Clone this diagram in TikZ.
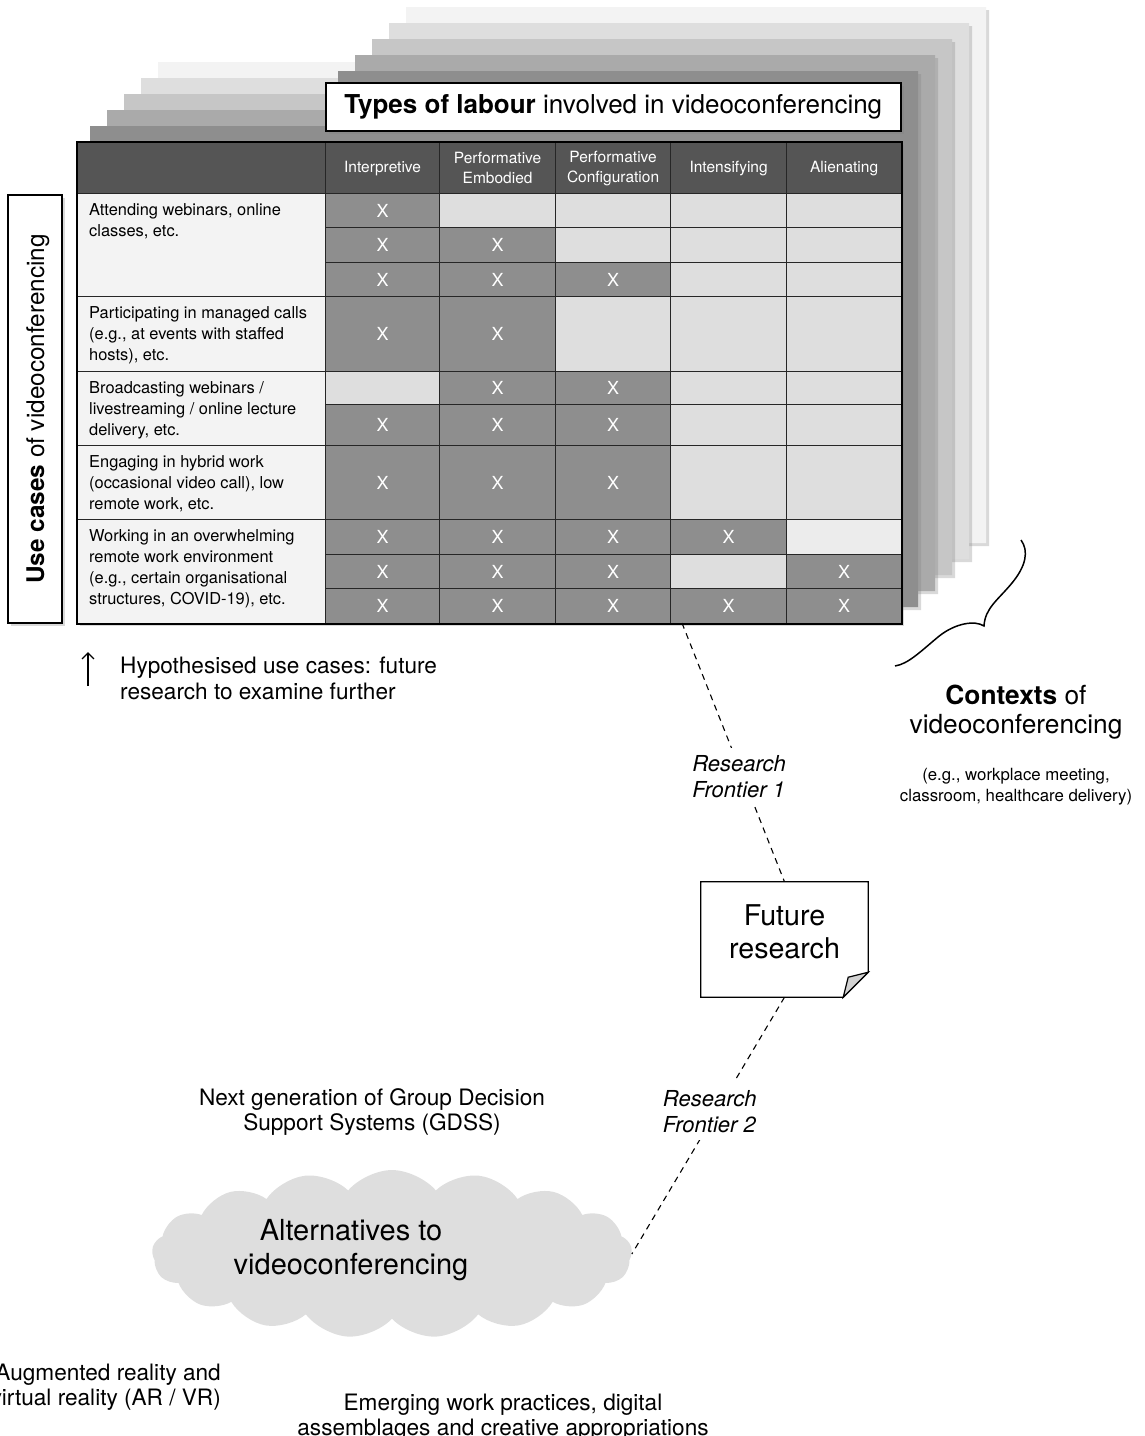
\documentclass[tikz,border=0pt]{standalone}
\usepackage{fontspec}
\setmainfont{TeX Gyre Heros}
\usetikzlibrary{shapes.symbols,shadows,arrows.meta,positioning}

\definecolor{hdr}{HTML}{555555}
\definecolor{xcell}{HTML}{8E8E8E}
\definecolor{blank}{HTML}{DEDEDE}
\definecolor{paler}{HTML}{ECECEC}
\definecolor{rowlab}{HTML}{F3F3F3}
\definecolor{cloudgray}{HTML}{DEDEDE}
\newcommand{\fsz}[2]{\fontsize{#1}{#2}\selectfont}

\tikzset{
  dropsh/.style={drop shadow={shadow xshift=3pt,shadow yshift=-3pt,opacity=.3}},
  tcell/.style={draw=black!85,line width=1.2pt,inner sep=0pt,anchor=north west,text=white,font=\fsz{18}{20}},
  cell0/.style={tcell,fill=blank},
  cell1/.style={tcell,fill=xcell},
  cell2/.style={tcell,fill=paler},
  hcell/.style={tcell,fill=hdr,align=center,font=\fsz{15.5}{20}},
  labcell/.style={draw=black!85,line width=1.2pt,fill=rowlab,anchor=north west,minimum width=248pt,inner sep=0pt},
  labtext/.style={anchor=north west,align=left,inner sep=0pt,font=\fsz{16.4}{21}},
  frontier/.style={dash pattern=on 6pt off 5pt,line width=1.1pt},
  flabel/.style={fill=white,align=left,inner sep=8pt,font=\fsz{22}{26}\itshape},
  remark/.style={align=center,inner sep=0pt,font=\fsz{22.6}{25}}
}

\begin{document}
\begin{tikzpicture}[x=1pt,y=-1pt]
\useasboundingbox (0,0) rectangle (1145,1436);

% pages behind the table (contexts)
\foreach \i/\pg in {5/F3F3F3,4/DEDEDE,3/C6C6C6,2/AAAAAA,1/8E8E8E}{
  \definecolor{pagecol}{HTML}{\pg}
  \fill[pagecol,dropsh] ({73+17*\i},{142-16*\i}) -- ({321+17*\i},{142-16*\i}) -- ({321+17*\i},{87-16*\i})
    -- ({901+17*\i},{87-16*\i}) -- ({901+17*\i},{623-16*\i}) -- ({73+17*\i},{623-16*\i}) -- cycle;
}

% title
\node[draw,line width=1.5pt,fill=white,dropsh,minimum width=575pt,minimum height=48pt,inner sep=0pt,
  anchor=north west,font=\fsz{26}{30}] (title) at (325,82) {\textbf{Types of labour} involved in videoconferencing};

% table
\fill[white,dropsh] (77,142) rectangle (901,623);
\node[hcell,minimum width=248pt,minimum height=51pt] (h0) at (77,142) {};
\foreach \k/\xl/\xr/\txt in {1/325/439/Interpretive,2/439/555/{Performative\\Embodied},
    3/555/670/{Performative\\Configuration},4/670/786/Intensifying,5/786/901/Alienating}
  \node[hcell,minimum width={\xr-\xl},minimum height=51pt] (h\k) at (\xl,142) {\txt};

\foreach \r/\ya/\yb/\a/\b/\c/\d/\e in {1/193/227/1/0/0/0/0,2/227/262/1/1/0/0/0,3/262/296/1/1/1/0/0,
    4/296/371/1/1/0/0/0,5/371/404/0/1/1/0/0,6/404/445/1/1/1/0/0,7/445/519/1/1/1/0/0,
    8/519/554/1/1/1/1/2,9/554/588/1/1/1/0/1,10/588/623/1/1/1/1/1}
  \foreach \v/\k/\xl/\xr in {\a/1/325/439,\b/2/439/555,\c/3/555/670,\d/4/670/786,\e/5/786/901}
    \node[cell\v,minimum width={\xr-\xl},minimum height={\yb-\ya}] (c\r-\k) at (\xl,\ya) {\ifnum\v=1 X\fi};

% use cases
\node[labcell,minimum height=103pt] (u1) at (77,193) {};
\node[labtext] (u1t) at (89,203) {Attending webinars, online\\classes, etc.};
\node[labcell,minimum height=75pt] (u2) at (77,296) {};
\node[labtext] (u2t) at (89,306) {Participating in managed calls\\(e.g., at events with staffed\\hosts), etc.};
\node[labcell,minimum height=74pt] (u3) at (77,371) {};
\node[labtext] (u3t) at (89,381) {Broadcasting webinars /\\livestreaming / online lecture\\delivery, etc.};
\node[labcell,minimum height=74pt] (u4) at (77,445) {};
\node[labtext] (u4t) at (89,455) {Engaging in hybrid work\\(occasional video call), low\\remote work, etc.};
\node[labcell,minimum height=104pt] (u5) at (77,519) {};
\node[labtext] (u5t) at (89,529) {Working in an overwhelming\\remote work environment\\(e.g., certain organisational\\structures, COVID-19), etc.};
\draw[line width=2pt] (h0.north west) rectangle (c10-5.south east);

\node[draw,line width=1.5pt,fill=white,dropsh,minimum width=54pt,minimum height=428pt,inner sep=0pt] (usebox) at (35,409) {};
\node[rotate=90,font=\fsz{24.3}{28}] (usetxt) at (38,409) {\textbf{Use cases} of videoconferencing};

% hypothesised
\draw[line width=1.3pt,-{Straight Barb[length=6pt,width=12pt]}] (88,686) -- (88,652);
\node[anchor=north west,align=left,inner sep=0pt,font=\fsz{22.6}{26}] (hypo) at (120,657)
  {Hypothesised use cases: future\\research to examine further};

% contexts brace
\draw[line width=1.5pt] (1021,540) .. controls (1029,551) and (1026,566) .. (1012,583)
  .. controls (998,600) and (985,608) .. (984,626)
  .. controls (975,620) and (955,623) .. (938,637)
  .. controls (920,652) and (908,664) .. (895,666);
\node[anchor=north,align=center,inner sep=0pt,font=\fsz{26.3}{29}] (ctx) at (1016,685) {\textbf{Contexts} of\\videoconferencing};
\node[anchor=north,align=center,inner sep=0pt,font=\fsz{16.8}{21}] (ctxeg) at (1016,768)
  {(e.g., workplace meeting,\\classroom, healthcare delivery)};

% future research
\node[minimum width=167pt,minimum height=115pt,inner sep=0pt] (future) at (784.5,939.5) {};
\draw[line width=1.2pt,fill=white] (future.north west) -- (future.north east) -- ([yshift=25pt]future.south east)
  -- ([xshift=-25pt]future.south east) -- (future.south west) -- cycle;
\filldraw[line width=1.2pt,fill=gray!35] ([xshift=-25pt]future.south east) -- ([xshift=-20pt,yshift=20pt]future.south east)
  -- ([yshift=25pt]future.south east) -- cycle;
\node[align=center,font=\fsz{28.6}{33}] (futuretxt) at ([yshift=8pt]future.center) {Future\\research};

% alternatives
\node[cloud,cloud puffs=17,cloud puff arc=100,aspect=2.85,fill=cloudgray,minimum width=480pt,minimum height=168pt,inner sep=0pt] (alt) at (392,1254) {};
\node[align=center,font=\fsz{29}{34}] (alttxt) at (351,1250) {Alternatives to\\videoconferencing};
\node[remark,anchor=north] (gdss) at (372,1088) {Next generation of Group Decision\\Support Systems (GDSS)};
\node[remark,anchor=north east,align=right] (arvr) at (221,1364) {Augmented reality and\\virtual reality (AR / VR)};
\node[remark,anchor=north] (emerging) at (503,1394) {Emerging work practices, digital\\assemblages and creative appropriations};

% research frontiers
\coordinate (rfstart) at (682,623);
\draw[frontier] (rfstart) -- node[flabel,pos=.595,xshift=-4pt] (rf1) {Research\\Frontier 1} (future.north);
\draw[frontier] (future.south) -- node[flabel,pos=.444,xshift=-7pt] (rf2) {Research\\Frontier 2} (alt.east);
\end{tikzpicture}
\end{document}
